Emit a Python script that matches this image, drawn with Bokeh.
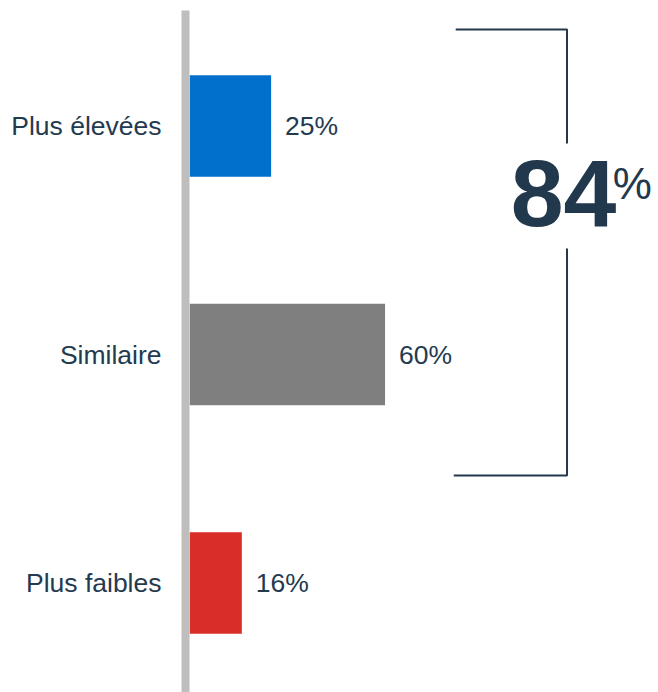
from bokeh.plotting import figure
from bokeh.models import Range1d, FixedTicker
from bokeh.core.properties import value
from bokeh.embed import file_html
from bokeh.resources import INLINE

# ---- data ----
categories = ["Plus élevées", "Similaire", "Plus faibles"]
values = [25, 60, 16]
colors = ["#0070cc", "#7f7f7f", "#d92d27"]
total_label = "84"
total_suffix = "%"

FONT = "Liberation Sans"
NAVY = "#243a4f"
DARK = "#22384d"

n = len(categories)
ys = [n - 1 - i for i in range(n)]
value_labels = [f"{v}%" for v in values]

p = figure(width=658, height=692, output_backend="svg", toolbar_location=None,
           x_range=Range1d(-1.3, 144.0), y_range=Range1d(-0.479, 2.5055),
           min_border_left=185, min_border_right=0, min_border_top=10, min_border_bottom=0)
p.outline_line_color = None
p.xgrid.visible = False
p.ygrid.visible = False
p.xaxis.visible = False
p.background_fill_color = "white"
p.border_fill_color = "white"

p.hbar(y=ys, left=0, right=values, height=0.444, fill_color=colors, line_color=None)

p.text(x=values, y=ys, text=value_labels, x_offset=14, text_align="left",
       text_baseline="middle", text_font=value(FONT), text_font_size="26.5px",
       text_color=NAVY)

ax = p.yaxis[0]
ax.ticker = FixedTicker(ticks=ys)
ax.major_label_overrides = {y: c for y, c in zip(ys, categories)}
ax.major_tick_line_color = None
ax.minor_tick_line_color = None
ax.axis_line_color = "#c0bebc"
ax.axis_line_width = 8
ax.major_label_text_font = FONT
ax.major_label_text_font_size = "26.5px"
ax.major_label_text_color = NAVY
ax.major_label_standoff = 18

# bracket around first two categories
top_y = ys[0] + 0.4224
bot_y = ys[1] - 0.5295
gap_top = ys[0] - 0.0765
gap_bot = ys[1] + 0.464
bx = 115.9
p.line(x=[81.7, bx, bx], y=[top_y, top_y, gap_top], line_color=DARK, line_width=2)
p.line(x=[bx, bx, 81.1], y=[gap_bot, bot_y, bot_y], line_color=DARK, line_width=2)

tx = 98.6
ty = ys[0] - 0.292
p.text(x=[tx], y=[ty], text=[total_label], text_align="left", text_baseline="middle",
       text_font=value(FONT), text_font_style="bold", text_font_size="95px",
       text_color=DARK)
p.text(x=[tx], y=[ty], text=[total_suffix], x_offset=102, y_offset=-9,
       text_align="left", text_baseline="middle",
       text_font=value(FONT), text_font_size="44px", text_color=DARK)

open("out.html", "w").write(file_html(p, INLINE))
